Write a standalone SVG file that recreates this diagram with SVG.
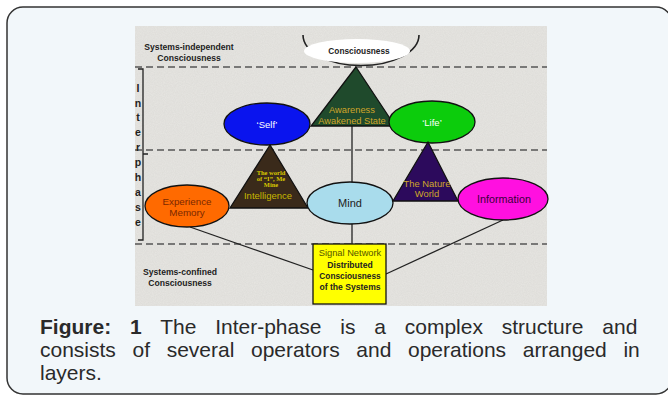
<svg xmlns="http://www.w3.org/2000/svg" width="668" height="396" viewBox="0 0 668 396">
<style>
.lbl{font-family:"Liberation Sans","Open Sans",sans-serif;text-anchor:middle}
.side{font-family:"Liberation Sans",sans-serif;font-weight:bold;font-size:8.6px;fill:#222;text-anchor:middle}
.ip{font-family:"Liberation Sans",sans-serif;font-weight:bold;font-size:10.5px;fill:#222;text-anchor:middle}
.dash{stroke:#555;stroke-width:1.5;stroke-dasharray:7 4;fill:none}
.edge{stroke:#222;stroke-width:1.3;fill:none}
.shape{stroke:#111;stroke-width:1.3}
.small{font-family:"Liberation Serif",serif;font-weight:bold;font-size:6.5px;fill:#d8c800;text-anchor:middle}
.cap{font-family:"Liberation Sans",Arial,sans-serif;font-size:21px;fill:#2a2a2a}
</style>
<defs>
<filter id="grain" x="0" y="0" width="100%" height="100%">
<feTurbulence type="fractalNoise" baseFrequency="0.9" numOctaves="2" seed="3" result="n"/>
<feColorMatrix in="n" type="matrix" values="0 0 0 0 0.55  0 0 0 0 0.54  0 0 0 0 0.52  0 0 0 0.3 0" result="c"/>
<feComposite in="c" in2="SourceGraphic" operator="in"/>
</filter>
</defs>
<rect width="668" height="396" fill="#ffffff"/>
<rect x="7" y="7" width="665" height="387" rx="16" fill="#f2f7fa" stroke="#333" stroke-width="1.5"/>
<rect x="135" y="26" width="412" height="280" fill="#e7e6e2"/>
<rect x="135" y="26" width="412" height="280" fill="#e7e6e2" filter="url(#grain)"/>

<g id="layers">
<line class="dash" x1="135" y1="67" x2="547" y2="67"/>
<line class="dash" x1="135" y1="150" x2="547" y2="150"/>
<line class="dash" x1="135" y1="244" x2="547" y2="244"/>
</g>

<g id="side-labels">
<text class="side" x="189" y="50">Systems-independent</text>
<text class="side" x="189" y="61">Consciousness</text>
<text class="side" x="180" y="275">Systems-confined</text>
<text class="side" x="180" y="286">Consciousness</text>
</g>

<g id="interphase">
<path d="M138,69 H143 V240 H138 M143,154 H148" stroke="#222" stroke-width="1.3" fill="none"/>
<text class="ip" x="138" y="92">I</text>
<text class="ip" x="138" y="107">n</text>
<text class="ip" x="138" y="121">t</text>
<text class="ip" x="138" y="136">e</text>
<text class="ip" x="138" y="151">r</text>
<text class="ip" x="138" y="166">p</text>
<text class="ip" x="138" y="181">h</text>
<text class="ip" x="138" y="196">a</text>
<text class="ip" x="138" y="211">s</text>
<text class="ip" x="138" y="226">e</text>
</g>

<g id="connectors">
<line class="edge" x1="352" y1="126" x2="352" y2="245"/>
<line class="edge" x1="190" y1="227" x2="313" y2="270"/>
<line class="edge" x1="503" y1="220" x2="386" y2="274"/>
</g>

<g id="consciousness">
<path d="M303,35 A57,30 0 0 0 419,35" fill="none" stroke="#222" stroke-width="1.6"/>
<ellipse cx="357" cy="51" rx="53" ry="12" fill="#ffffff"/>
<text class="lbl" x="359" y="54" font-size="8.3" font-weight="bold" fill="#222">Consciousness</text>
</g>

<g id="awareness">
<polygon class="shape" points="356,67 311,126 395,126" fill="#1f4a2c"/>
<text class="lbl" x="352" y="113" font-size="9.3" fill="#cfa52a">Awareness</text>
<text class="lbl" x="352" y="124" font-size="9.3" fill="#cfa52a">Awakened State</text>
</g>

<g id="self">
<ellipse class="shape" cx="267" cy="124" rx="43" ry="21" fill="#0a14ee"/>
<text class="lbl" x="267" y="128" font-size="9.5" fill="#ffffff">‘Self’</text>
</g>

<g id="life">
<ellipse class="shape" cx="432" cy="122" rx="43" ry="21" fill="#0ccc0c"/>
<text class="lbl" x="432" y="126" font-size="9.5" fill="#ffffff">‘Life’</text>
</g>

<g id="intelligence">
<polygon class="shape" points="270,145 230,208 308,208" fill="#3a2a1a"/>
<text class="small" x="271" y="175">The world</text>
<text class="small" x="271" y="181">of “I”, Me</text>
<text class="small" x="271" y="187">Mine</text>
<text class="lbl" x="268" y="199" font-size="9.5" fill="#c8b800">Intelligence</text>
</g>

<g id="nature">
<polygon class="shape" points="428,142 393,201 458,201" fill="#2c0a5c"/>
<text class="lbl" x="427" y="187" font-size="9.4" fill="#cfa52a">The Nature</text>
<text class="lbl" x="427" y="197" font-size="9.4" fill="#cfa52a">World</text>
</g>

<g id="experience">
<ellipse class="shape" cx="187" cy="206" rx="42" ry="21" fill="#ff6a00"/>
<text class="lbl" x="187" y="205" font-size="9.8" fill="#7a2800">Experience</text>
<text class="lbl" x="187" y="216" font-size="9.8" fill="#7a2800">Memory</text>
</g>

<g id="mind">
<ellipse class="shape" cx="350" cy="203" rx="43" ry="21" fill="#a9dcec"/>
<text class="lbl" x="350" y="207" font-size="11" fill="#222">Mind</text>
</g>

<g id="information">
<ellipse class="shape" cx="503" cy="199" rx="45" ry="21" fill="#ff10e0"/>
<text class="lbl" x="504" y="203" font-size="10.8" fill="#3a0038">Information</text>
</g>

<g id="signal">
<rect class="shape" x="313" y="244" width="73" height="60" fill="#ffff00"/>
<text class="lbl" x="350" y="256" font-size="9.3" fill="#555500">Signal Network</text>
<text class="lbl" x="350" y="268" font-size="8.6" font-weight="bold" fill="#222">Distributed</text>
<text class="lbl" x="350" y="279" font-size="8.3" font-weight="bold" fill="#222">Consciousness</text>
<text class="lbl" x="350" y="290" font-size="8.6" font-weight="bold" fill="#222">of the Systems</text>
</g>

<g id="caption">
<text class="cap" x="40" y="334" word-spacing="13"><tspan font-weight="bold">Figure: 1</tspan> The Inter-phase is a complex structure and</text>
<text class="cap" x="40" y="357" word-spacing="10.8">consists of several operators and operations arranged in</text>
<text class="cap" x="40" y="380">layers.</text>
</g>
</svg>
